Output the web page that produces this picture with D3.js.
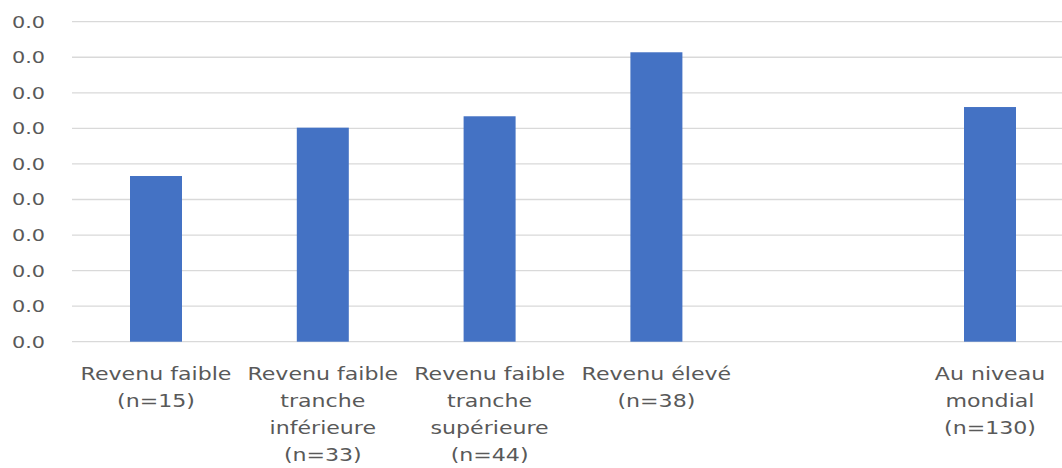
<!DOCTYPE html>
<html><head><meta charset="utf-8">
<script src="https://cdn.jsdelivr.net/npm/d3@7"></script>
<style>html,body{margin:0;padding:0;background:#fff;}svg{display:block;}</style>
</head><body>
<svg id="chart" width="1062" height="468"></svg>
<script>
const categories = [
  "Revenu faible|(n=15)",
  "Revenu faible|tranche|inférieure|(n=33)",
  "Revenu faible|tranche|supérieure|(n=44)",
  "Revenu élevé|(n=38)",
  "",
  "Au niveau|mondial|(n=130)"
];
const values = [0.0233, 0.0301, 0.0317, 0.0407, null, 0.0330];
const tickValues = [0, 0.005, 0.01, 0.015, 0.02, 0.025, 0.03, 0.035, 0.04, 0.045];
const tickLabels = ["0.0","0.0","0.0","0.0","0.0","0.0","0.0","0.0","0.0","0.0"];

const W = 1062, H = 468;
const svg = d3.select("#chart");
const x = d3.scaleBand().domain(categories.map((c,i)=>i)).range([72.6, 1073.4]).paddingInner(0.69).paddingOuter(0.345);
const y = d3.scaleLinear().domain([0, 0.045]).range([341.7, 21.7]);
const textColor = "#595959";
const sx = 1.3;

// gridlines
svg.append("g").selectAll("line").data(tickValues).join("line")
  .attr("x1", 72).attr("x2", W)
  .attr("y1", d=>y(d)).attr("y2", d=>y(d))
  .attr("stroke", "#d9d9d9").attr("stroke-width", 1.3);

// y tick labels
svg.append("g").selectAll("text").data(tickValues).join("text")
  .attr("transform", d=>`translate(45,${y(d)+6}) scale(${sx},1)`)
  .attr("text-anchor", "end")
  .attr("font-family", "DejaVu Sans")
  .attr("font-size", 16)
  .attr("fill", textColor)
  .text((d,i)=>tickLabels[i]);

// bars
const bw = 52;
svg.append("g").selectAll("rect").data(values.map((v,i)=>({v,i})).filter(d=>d.v!=null)).join("rect")
  .attr("x", d=>x(d.i) + x.bandwidth()/2 - bw/2)
  .attr("width", bw)
  .attr("y", d=>y(d.v))
  .attr("height", d=>y(0)-y(d.v))
  .attr("fill", "#4472C4");

// category labels
const lab = svg.append("g");
categories.forEach((c,i)=>{
  if(!c) return;
  const cx = x(i) + x.bandwidth()/2;
  c.split("|").forEach((line,j)=>{
    lab.append("text")
      .attr("transform", `translate(${cx},${380 + j*27}) scale(${sx},1)`)
      .attr("text-anchor", "middle")
      .attr("font-family", "DejaVu Sans")
      .attr("font-size", 17)
      .attr("fill", textColor)
      .text(line);
  });
});
</script>
</body></html>
